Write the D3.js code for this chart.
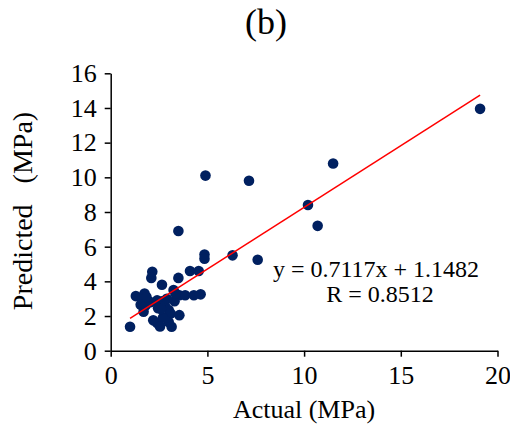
<!DOCTYPE html>
<html>
<head>
<meta charset="utf-8">
<script src="https://cdn.jsdelivr.net/npm/d3@7"></script>
<style>
  body { margin: 0; background: #fff; }
  text { font-family: "Liberation Serif", "Times New Roman", serif; fill: #000; }
</style>
</head>
<body>
<div id="chart"></div>
<script>
// measured values (MPa)
var actual = [1.0, 1.3, 1.75, 1.55, 1.7, 1.9, 2.05, 2.4, 2.65, 2.8, 2.45, 3.0, 3.1, 3.3, 3.55,
  2.2, 2.4, 3.0, 3.15, 2.7, 2.15, 2.1, 2.65, 3.25, 3.55, 3.85, 4.3, 4.65, 3.5, 4.1, 4.55,
  4.85, 4.85, 6.3, 7.6, 3.5, 4.9, 7.15, 10.2, 10.7, 11.5, 19.1,
  1.6, 1.8, 2.6, 2.9, 3.35, 2.55, 1.85];
var predicted = [1.38, 3.15, 3.3, 2.65, 2.25, 2.9, 2.8, 2.9, 2.85, 2.6, 2.45, 2.35, 2.15, 2.85, 2.05,
  1.75, 1.6, 1.65, 1.38, 1.9, 4.55, 4.2, 3.8, 3.5, 3.2, 3.2, 3.2, 3.25, 4.2, 4.6, 4.6,
  5.55, 5.3, 5.5, 5.25, 6.9, 10.1, 9.8, 8.4, 7.2, 10.8, 13.95,
  3.0, 2.6, 2.4, 3.0, 3.3, 1.4, 3.1];
var slope = 0.7117, intercept = 1.1482, rValue = 0.8512;
var xTicks = [0, 5, 10, 15, 20];
var yTicks = [0, 2, 4, 6, 8, 10, 12, 14, 16];

var data = actual.map(function(a, i) { return {x: a, y: predicted[i]}; });

var width = 510, height = 431;
var svg = d3.select('#chart').append('svg').attr('width', width).attr('height', height);

var xScale = d3.scaleLinear().domain([0, 20]).range([110.7, 497.5]);
var yScale = d3.scaleLinear().domain([0, 16]).range([350.7, 73.3]);

var xAxis = svg.append('g').attr('transform', 'translate(0,350.7)')
  .call(d3.axisBottom(xScale).tickValues(xTicks).tickSize(6).tickSizeOuter(0).tickPadding(9));
var yAxis = svg.append('g').attr('transform', 'translate(110.7,0)')
  .call(d3.axisLeft(yScale).tickValues(yTicks).tickSize(6).tickSizeOuter(0).tickPadding(8));

[xAxis, yAxis].forEach(function(g) {
  g.attr('font-family', null);
  g.selectAll('path, line').attr('stroke', '#000').attr('stroke-width', 1.5);
  g.selectAll('text').style('font-size', '26px').attr('fill', '#000');
});

svg.selectAll('circle').data(data).enter()
  .append('circle')
  .attr('cx', (d) => xScale(d.x))
  .attr('cy', (d) => yScale(d.y))
  .attr('r', 5.3)
  .attr('fill', '#002060');

// trend line over the range of the data
var xMin = d3.min(actual), xMax = d3.max(actual);
svg.append('line')
  .attr('x1', xScale(xMin)).attr('y1', yScale(slope * xMin + intercept))
  .attr('x2', xScale(xMax)).attr('y2', yScale(slope * xMax + intercept))
  .attr('stroke', '#ff0000').attr('stroke-width', 1.5);

svg.append('text').attr('x', 376).attr('y', 277).attr('text-anchor', 'middle')
  .style('font-size', '24px').text('y = ' + slope + 'x + ' + intercept);
svg.append('text').attr('x', 380).attr('y', 302).attr('text-anchor', 'middle')
  .style('font-size', '24px').text('R = ' + rValue);

svg.append('text').attr('x', 304).attr('y', 418).attr('text-anchor', 'middle')
  .style('font-size', '26px').text('Actual (MPa)');
svg.append('text').attr('transform', 'translate(32,211) rotate(-90)').attr('text-anchor', 'middle')
  .style('font-size', '28px').style('white-space', 'pre').text('Predicted   (MPa)');

svg.append('text').attr('x', 266).attr('y', 34).attr('text-anchor', 'middle')
  .style('font-size', '36px').text('(b)');
</script>
</body>
</html>
